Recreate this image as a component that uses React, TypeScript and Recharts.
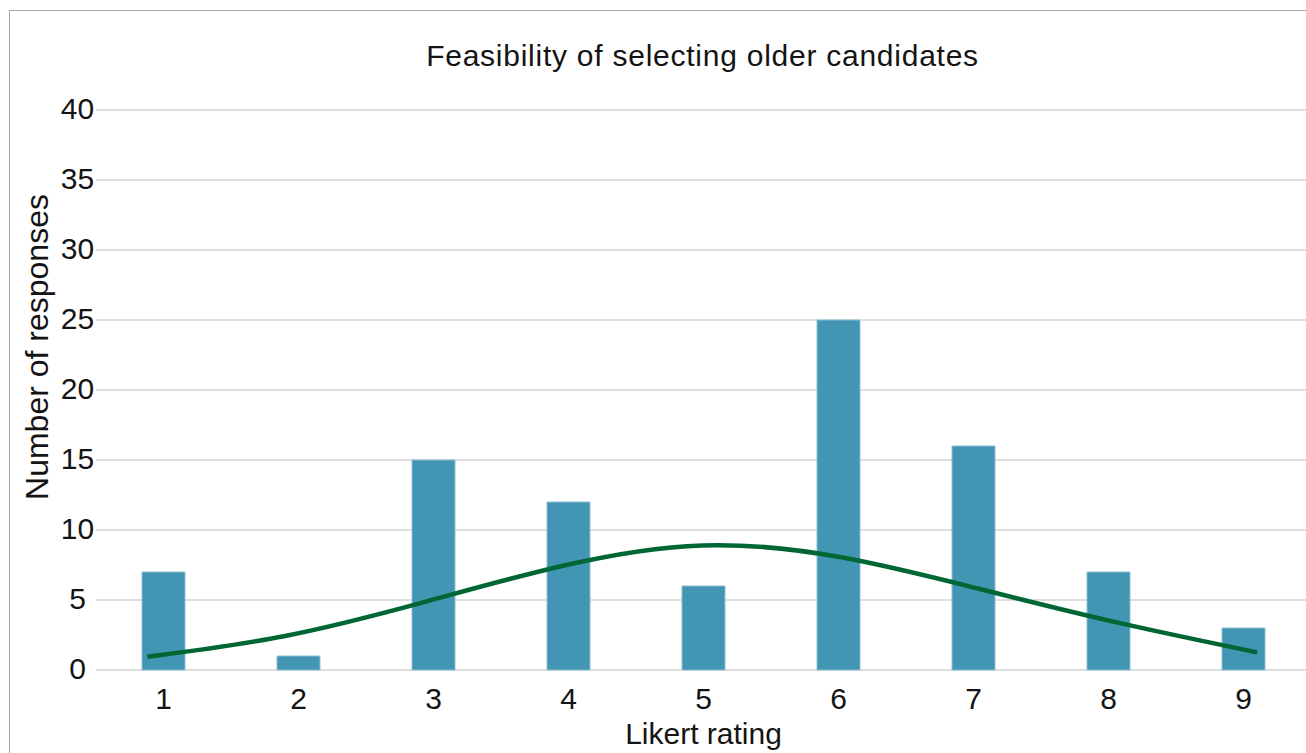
import React from 'react';
import { ComposedChart, Bar, Line, XAxis, YAxis, CartesianGrid } from 'recharts';

const chartTitle = 'Feasibility of selecting older candidates';
const xAxisTitle = 'Likert rating';
const yAxisTitle = 'Number of responses';

const ratings = [1, 2, 3, 4, 5, 6, 7, 8, 9];
const responses = [7, 1, 15, 12, 6, 25, 16, 7, 3];

// smooth fitted curve
const curveX = [0.88, 1.9, 2.93, 3.96, 4.99, 6.02, 7.04, 8.07, 9.1];
const curveY = [0.95, 2.43, 4.85, 7.45, 8.9, 8.05, 5.8, 3.38, 1.26];

const yTicks = [0, 5, 10, 15, 20, 25, 30, 35, 40];

const barData = ratings.map((r, i) => ({ rating: r, responses: responses[i] }));
const curveData = curveX.map((x, i) => ({ pos: x, fit: curveY[i] }));

const FONT = '"Liberation Sans", Arial, Helvetica, sans-serif';
const TEXT = '#141414';

const XTick = (props: any) => {
  const { x, y, payload } = props;
  return (
    <text x={x} y={y + 21} textAnchor="middle" fontFamily={FONT} fontSize={30} fill={TEXT}>
      {payload.value}
    </text>
  );
};

const YTick = (props: any) => {
  const { x, y, payload } = props;
  return (
    <text x={x - 18.5} y={y + 8.5} textAnchor="middle" fontFamily={FONT} fontSize={30} fill={TEXT}>
      {payload.value}
    </text>
  );
};

const XLabel = (props: any) => {
  const vb = props.viewBox || {};
  return (
    <text x={vb.x + vb.width / 2} y={vb.y + 74} textAnchor="middle" fontFamily={FONT} fontSize={30} fill={TEXT}>
      {xAxisTitle}
    </text>
  );
};

const YLabel = (props: any) => {
  const vb = props.viewBox || {};
  const cx = vb.x + 48;
  const cy = vb.y + vb.height / 2 - 43;
  return (
    <text
      x={cx}
      y={cy}
      transform={`rotate(-90, ${cx}, ${cy})`}
      textAnchor="middle"
      fontFamily={FONT}
      fontSize={32}
      fill={TEXT}
    >
      {yAxisTitle}
    </text>
  );
};

export default function App() {
  return (
    <div
      style={{
        position: 'fixed',
        left: 0,
        top: 0,
        width: 1306,
        height: 753,
        overflow: 'hidden',
        background: '#ffffff',
      }}
    >
      <div
        style={{
          position: 'absolute',
          left: 9,
          top: 10,
          width: 1400,
          height: 800,
          border: '1px solid #a6a6a6',
          boxSizing: 'border-box',
        }}
      />
      <svg width={1306} height={100} style={{ position: 'absolute', left: 0, top: 0 }}>
        <text
          x={702.5}
          y={66}
          textAnchor="middle"
          fontFamily={FONT}
          fontSize={30}
          letterSpacing={0.75}
          fill={TEXT}
        >
          {chartTitle}
        </text>
      </svg>
      <div style={{ position: 'absolute', left: 0, top: 0 }}>
        <ComposedChart
          width={1320}
          height={760}
          data={barData}
          margin={{ top: 110, right: 9, bottom: 0, left: 0 }}
        >
          <CartesianGrid vertical={false} stroke="#dedede" strokeWidth={2} />
          <XAxis
            dataKey="rating"
            type="category"
            interval={0}
            axisLine={false}
            tickLine={false}
            tickSize={0}
            tickMargin={18}
            height={90}
            tick={<XTick />}
            label={<XLabel />}
          />
          <XAxis
            xAxisId="fit"
            dataKey="pos"
            type="number"
            domain={[0.5, 9.5]}
            allowDataOverflow
            hide
          />
          <YAxis
            type="number"
            domain={[0, 40]}
            ticks={yTicks}
            interval={0}
            width={96}
            axisLine={false}
            tickLine={false}
            tickSize={0}
            tickMargin={0}
            tick={<YTick />}
            label={<YLabel />}
          />
          <Bar
            dataKey="responses"
            fill="#4396b3"
            stroke="#8cbfd2"
            strokeWidth={1}
            barSize={43}
            isAnimationActive={false}
          />
          <Line
            xAxisId="fit"
            data={curveData}
            dataKey="fit"
            type="natural"
            stroke="#006734"
            strokeWidth={4.5}
            dot={false}
            activeDot={false}
            isAnimationActive={false}
          />
        </ComposedChart>
      </div>
    </div>
  );
}
